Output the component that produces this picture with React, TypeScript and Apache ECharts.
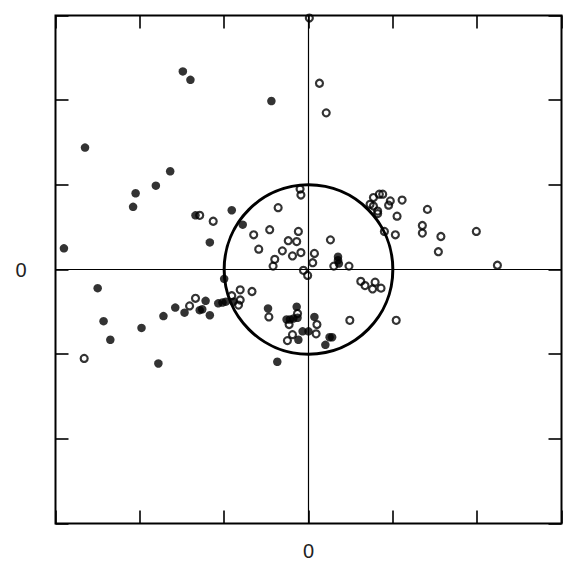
import React, { useEffect, useRef } from "react";
import * as echarts from "echarts";

// Axis range and tick step
const axisMin = -3;
const axisMax = 3;
const axisStep = 1;
const shownTickLabels = [0];

// Reference circle (centre x, centre y, radius) in data units
const referenceCircle: [number, number, number][] = [[0, 0, 1]];

// Filled (black) points [x, y]
const filledPoints: [number, number][] = [
  [-1.49, 2.34], [-1.40, 2.24], [-0.44, 1.99], [-2.65, 1.44], [-1.64, 1.16],
  [-1.81, 0.99], [-2.05, 0.90], [-2.08, 0.74], [-2.90, 0.25], [-0.91, 0.70],
  [-0.78, 0.53], [-1.17, 0.32], [-1.34, 0.64], [-1.00, -0.11], [-2.50, -0.22],
  [-2.43, -0.61], [-2.35, -0.83], [-1.98, -0.69], [-1.78, -1.11], [-1.72, -0.55],
  [-1.58, -0.45], [-1.47, -0.51], [-1.29, -0.48], [-1.26, -0.47], [-1.22, -0.37],
  [-1.17, -0.54], [-1.07, -0.40], [-1.02, -0.39], [-0.98, -0.38], [-0.89, -0.38],
  [-0.48, -0.46], [-0.14, -0.44], [-0.26, -0.59], [-0.22, -0.59], [-0.18, -0.58],
  [-0.13, -0.57], [-0.12, -0.83], [-0.07, -0.73], [0.00, -0.73], [0.07, -0.56],
  [0.25, -0.80], [0.28, -0.80], [0.20, -0.89], [-0.37, -1.09], [0.35, 0.15],
  [0.35, 0.11], [0.36, 0.07],
];

// Open (hollow) points [x, y]
const openPoints: [number, number][] = [
  [0.01, 2.97], [0.13, 2.20], [0.21, 1.85], [-0.10, 0.95], [-0.09, 0.88],
  [-0.36, 0.73], [-1.29, 0.64], [-1.13, 0.57], [-0.65, 0.41], [-0.46, 0.47],
  [-0.59, 0.24], [-0.12, 0.45], [-0.24, 0.34], [-0.14, 0.33], [-0.31, 0.22],
  [-0.19, 0.16], [-0.09, 0.20], [-0.40, 0.12], [-0.42, 0.04], [-0.06, -0.01],
  [-0.01, -0.07], [0.07, 0.19], [0.05, 0.08], [0.26, 0.35], [0.30, 0.04],
  [0.48, 0.04], [0.77, 0.85], [0.84, 0.89], [0.88, 0.89], [0.97, 0.81],
  [0.95, 0.76], [1.11, 0.82], [0.73, 0.77], [0.77, 0.75], [0.82, 0.69],
  [0.82, 0.66], [1.05, 0.63], [0.90, 0.45], [1.03, 0.41], [1.41, 0.71],
  [1.35, 0.52], [1.35, 0.43], [1.57, 0.39], [1.54, 0.21], [1.99, 0.45],
  [2.24, 0.05], [0.62, -0.14], [0.67, -0.19], [0.79, -0.15], [0.76, -0.23],
  [0.86, -0.22], [0.49, -0.60], [1.04, -0.60], [0.10, -0.65], [0.09, -0.76],
  [-0.23, -0.65], [-0.19, -0.77], [-0.25, -0.84], [-0.47, -0.56], [-0.13, -0.52],
  [-2.66, -1.05], [-1.41, -0.43], [-1.34, -0.34], [-0.91, -0.31], [-0.81, -0.24],
  [-0.81, -0.36], [-0.67, -0.26], [-0.83, -0.42],
];

const labelFormatter = (v: number) => (shownTickLabels.includes(v) ? String(v) : "");

export default function App() {
  const ref = useRef<HTMLDivElement>(null);

  useEffect(() => {
    if (!ref.current) return;
    const chart = echarts.init(ref.current, null, { renderer: "svg" });

    const tick = {
      show: true,
      inside: true,
      length: 13,
      lineStyle: { color: "#000", width: 1.6 },
    };
    const baseAxis = {
      type: "value" as const,
      min: axisMin,
      max: axisMax,
      interval: axisStep,
      axisLine: { show: false, onZero: false },
      axisTick: tick,
      splitLine: { show: false },
    };
    const labelStyle = {
      fontSize: 20,
      color: "#222",
      fontFamily: "Liberation Sans, Arial, sans-serif",
      formatter: labelFormatter,
      showMinLabel: true,
      showMaxLabel: true,
    };

    chart.setOption({
      animation: false,
      backgroundColor: "#fff",
      grid: {
        left: 55.5,
        right: 8.5,
        top: 15.5,
        bottom: 40.5,
        show: true,
        borderColor: "#000",
        borderWidth: 2,
        backgroundColor: "transparent",
      },
      xAxis: [
        { ...baseAxis, position: "bottom", axisLabel: { ...labelStyle, margin: 17 } },
        { ...baseAxis, position: "top", axisLabel: { show: false } },
      ],
      yAxis: [
        { ...baseAxis, position: "left", axisLabel: { ...labelStyle, margin: 29 } },
        { ...baseAxis, position: "right", axisLabel: { show: false } },
      ],
      series: [
        {
          type: "scatter",
          name: "axes",
          data: [],
          silent: true,
          markLine: {
            silent: true,
            symbol: "none",
            label: { show: false },
            lineStyle: { color: "#000", width: 1.2, type: "solid" },
            data: [{ xAxis: 0 }, { yAxis: 0 }],
          },
        },
        {
          type: "custom",
          name: "circle",
          silent: true,
          data: referenceCircle,
          encode: { x: 0, y: 1 },
          renderItem: (_params: any, api: any) => {
            const c = api.coord([api.value(0), api.value(1)]);
            const s = api.size([api.value(2), api.value(2)]);
            return {
              type: "ellipse",
              shape: { cx: c[0], cy: c[1], rx: s[0], ry: s[1] },
              style: { fill: "none", stroke: "#000", lineWidth: 3 },
            };
          },
        },
        {
          type: "scatter",
          name: "filled",
          data: filledPoints,
          symbol: "circle",
          symbolSize: 8.5,
          itemStyle: { color: "#000" },
        },
        {
          type: "scatter",
          name: "open",
          data: openPoints,
          symbol: "circle",
          symbolSize: 7,
          itemStyle: { color: "transparent", borderColor: "#000", borderWidth: 2.2 },
        },
      ],
    });

    return () => chart.dispose();
  }, []);

  return (
    <div
      ref={ref}
      style={{ position: "fixed", left: 0, top: 0, width: 570, height: 564, background: "#fff" }}
    />
  );
}
